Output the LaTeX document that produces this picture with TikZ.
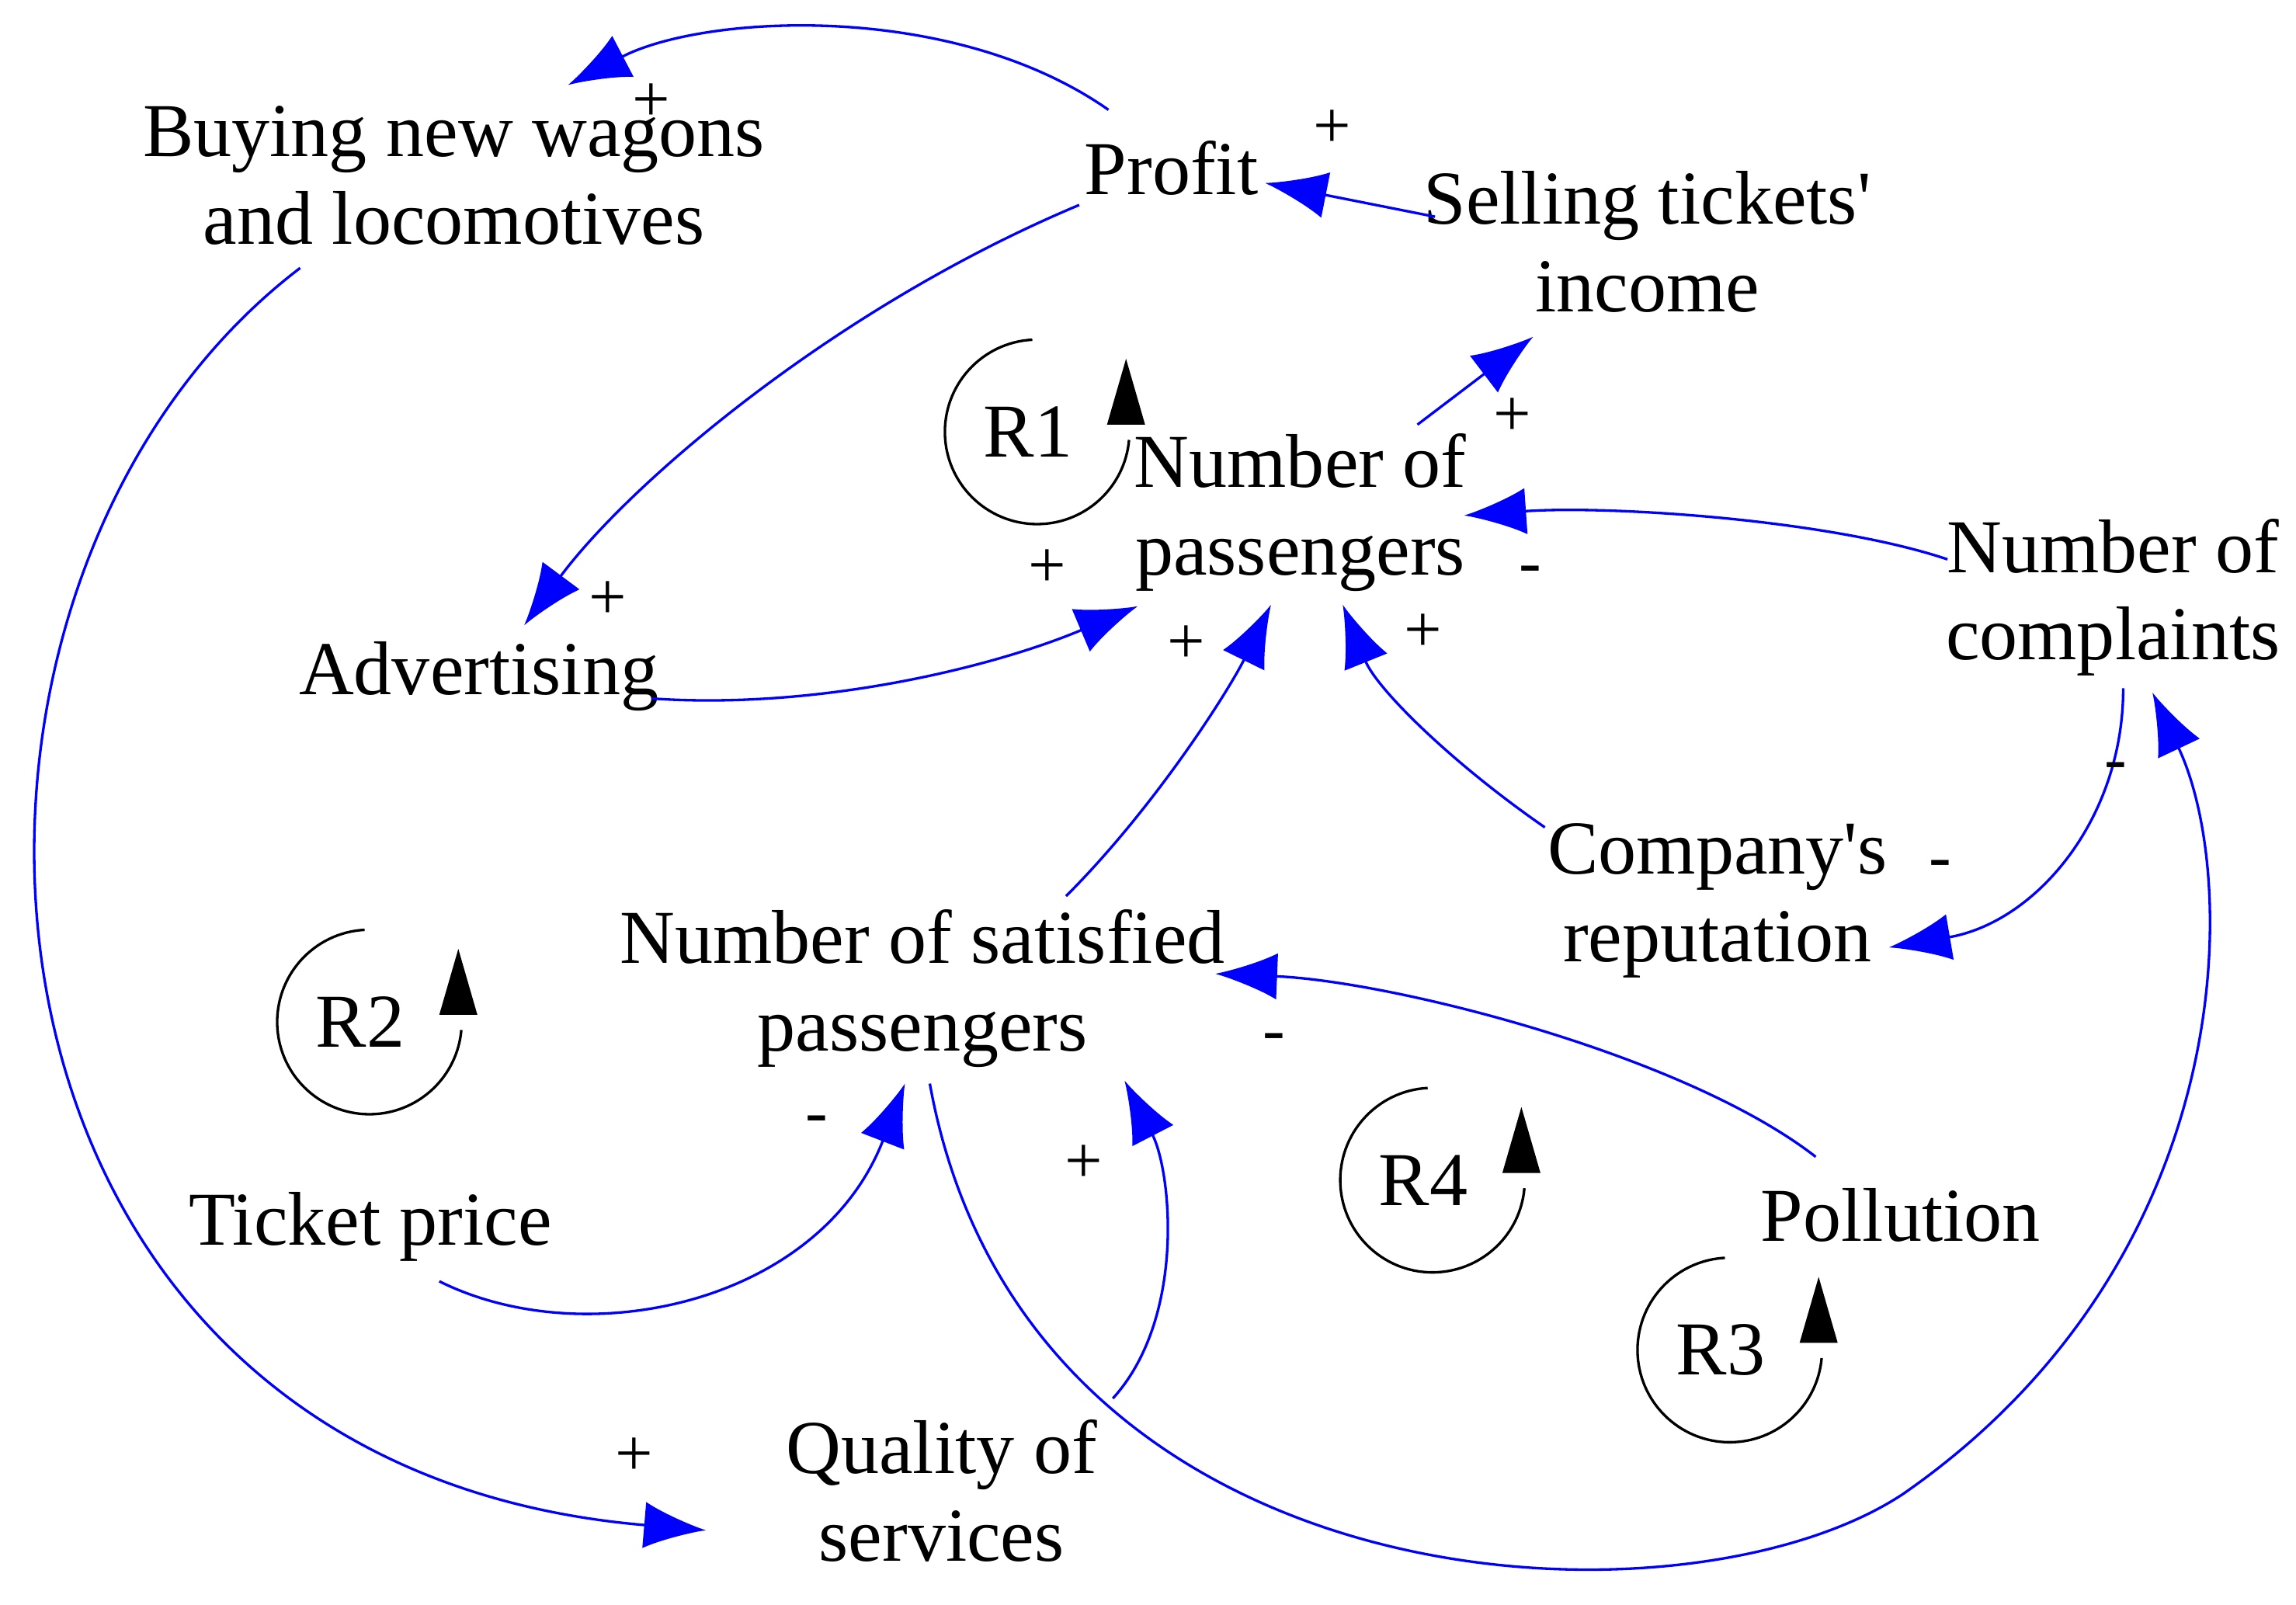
\documentclass[tikz,border=0pt]{standalone}
\usepackage{fontspec}
\setmainfont{Liberation Serif}
\usetikzlibrary{arrows.meta}
\begin{document}
\begin{tikzpicture}[x=0.1mm,y=-0.1mm,
  lab/.style={font=\fontsize{14.8}{17}\selectfont,align=center,inner sep=1pt},
  sg/.style={font=\fontsize{13}{14}\selectfont,inner sep=0pt},
  cn/.style={draw=blue,line width=0.5pt,-{Latex[length=12pt,width=9pt,fill=blue]}},
  lp/.style={line width=0.5pt},
  tri/.style={fill=black}]
\useasboundingbox (0,0) rectangle (1568,1096);
\node[lab] (buy) at (310,120) {Buying new wagons\\and locomotives};
\node[lab] (profit) at (800,115) {Profit};
\node[lab] (sell) at (1125,165) {Selling tickets\textquotesingle\\income};
\node[lab] (nump) at (888,350) {Number of\\passengers};
\node[lab] (adv) at (327,462) {Advertising};
\node[lab] (comp) at (1443,408) {Number of\\complaints};
\node[lab] (rep) at (1173,615) {Company\textquotesingle s\\reputation};
\node[lab] (sat) at (630,675) {Number of satisfied\\passengers};
\node[lab] (ticket) at (253,838) {Ticket price};
\node[lab] (poll) at (1298,830) {Pollution};
\node[lab] (qual) at (643,1018) {Quality of\\services};
% loops
\foreach \n/\cx/\cy in {R1/702/295,R2/246/698,R4/972/806,R3/1175/922}{
  \node[lab] at (\cx,\cy) {\n};
  \draw[lp] (\cx+3,\cy-63) arc[start angle=-93,end angle=-355,radius=63];
  \fill[tri] (\cx+54,\cy-5) -- (\cx+80,\cy-5) -- (\cx+67,\cy-50) -- cycle;
}
\coordinate (a1) at (757,75); \coordinate (b1) at (388,58);
\draw[cn] (a1) .. controls (650,0) and (480,10) .. (b1);
\coordinate (a2) at (737,140); \coordinate (b2) at (358,427);
\draw[cn] (a2) .. controls (570,210) and (430,330) .. (b2);
\coordinate (a3) at (980,148); \coordinate (b3) at (864,125);
\draw[cn] (a3) -- (b3);
\coordinate (a4) at (968,290); \coordinate (b4) at (1047,230);
\draw[cn] (a4) -- (b4);
\coordinate (a5) at (1330,382); \coordinate (b5) at (1000,352);
\draw[cn] (a5) .. controls (1250,355) and (1100,345) .. (b5);
\coordinate (a6) at (445,477); \coordinate (b6) at (777,414);
\draw[cn] (a6) .. controls (560,485) and (680,455) .. (b6);
\coordinate (a7) at (728,612); \coordinate (b7) at (868,413);
\draw[cn] (a7) .. controls (790,550) and (840,470) .. (b7);
\coordinate (a8) at (1055,565); \coordinate (b8) at (917,413);
\draw[cn] (a8) .. controls (990,520) and (940,470) .. (b8);
\coordinate (a9) at (1450,470); \coordinate (b9) at (1290,647);
\draw[cn] (a9) .. controls (1450,560) and (1390,630) .. (b9);
\coordinate (a10) at (1240,790); \coordinate (b10) at (830,665);
\draw[cn] (a10) .. controls (1150,720) and (950,670) .. (b10);
\coordinate (a11) at (300,875); \coordinate (b11) at (618,740);
\draw[cn] (a11) .. controls (400,925) and (560,890) .. (b11);
\coordinate (a12) at (760,955); \coordinate (b12) at (768,738);
\draw[cn] (a12) .. controls (810,900) and (800,800) .. (b12);
\coordinate (a13) at (205,183); \coordinate (b13) at (482,1045);
\draw[cn] (a13) .. controls (-80,400) and (-50,1000) .. (b13);
\coordinate (a14) at (635,740); \coordinate (b14) at (1470,473);
\draw[cn] (a14) .. controls (700,1100) and (1150,1120) .. (1300,1020) .. controls (1530,860) and (1530,600) .. (b14);
% polarity signs
\foreach \x/\y/\t in {445/70/+,415/410/+,910/88/+,1033/285/+,1045/393/-,715/388/+,810/440/+,972/432/+,1445/527/-,1325/594/-,870/712/-,558/768/-,740/795/+,433/995/+}{
  \node[sg] at (\x,\y) {\t};
}
\end{tikzpicture}
\end{document}
